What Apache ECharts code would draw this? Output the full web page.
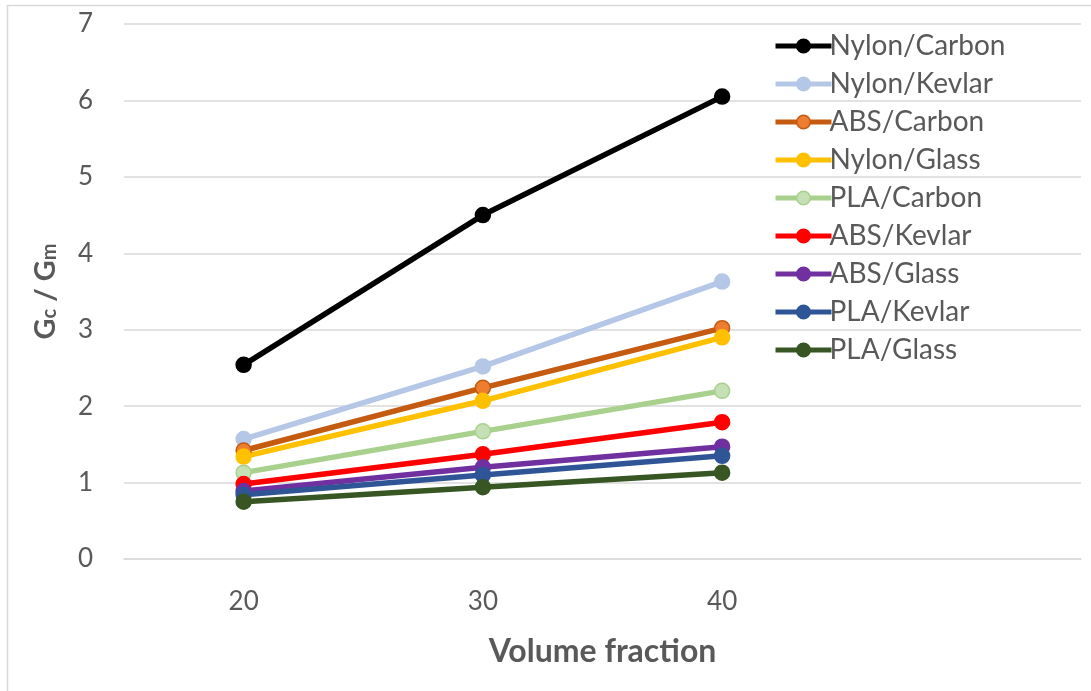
<!DOCTYPE html>
<html>
<head>
<meta charset="utf-8">
<script src="https://cdn.jsdelivr.net/npm/echarts@6/dist/echarts.min.js"></script>
<style>
  html, body { margin: 0; padding: 0; background: #ffffff; }
  #chart { width: 1091px; height: 691px; }
</style>
</head>
<body>
<div id="chart"></div>
<script>
// Volume fraction categories (the trailing blank slot leaves room for the legend)
const categories = ['20', '30', '40', ''];

// Gc / Gm ratio for each fibre/matrix combination
const nylonCarbon = [2.54, 4.50, 6.05];
const nylonKevlar = [1.57, 2.52, 3.63];
const absCarbon   = [1.42, 2.24, 3.02];
const nylonGlass  = [1.34, 2.07, 2.90];
const plaCarbon   = [1.13, 1.67, 2.20];
const absKevlar   = [0.98, 1.37, 1.79];
const absGlass    = [0.89, 1.20, 1.47];
const plaKevlar   = [0.84, 1.10, 1.35];
const plaGlass    = [0.75, 0.94, 1.13];

const yTicks = [0, 1, 2, 3, 4, 5, 6, 7];

const seriesDefs = [
  { name: 'Nylon/Carbon', data: nylonCarbon, line: '#000000', fill: '#000000' },
  { name: 'Nylon/Kevlar', data: nylonKevlar, line: '#B4C7E7', fill: '#B4C7E7' },
  { name: 'ABS/Carbon',   data: absCarbon,   line: '#C55A11', fill: '#ED7D31' },
  { name: 'Nylon/Glass',  data: nylonGlass,  line: '#FFC000', fill: '#FFC000' },
  { name: 'PLA/Carbon',   data: plaCarbon,   line: '#A9D18E', fill: '#C5E0B4' },
  { name: 'ABS/Kevlar',   data: absKevlar,   line: '#FF0000', fill: '#FF0000' },
  { name: 'ABS/Glass',    data: absGlass,    line: '#7030A0', fill: '#7030A0' },
  { name: 'PLA/Kevlar',   data: plaKevlar,   line: '#2F5597', fill: '#2F5597' },
  { name: 'PLA/Glass',    data: plaGlass,    line: '#375623', fill: '#375623' }
];

const FONT = 'Lato, "Open Sans", sans-serif';
const GREY = '#595959';

const chart = echarts.init(document.getElementById('chart'), null, { renderer: 'canvas' });

chart.setOption({
  animation: false,
  backgroundColor: '#ffffff',
  graphic: [{
    type: 'rect',
    shape: { x: 7.5, y: 5.5, width: 1100, height: 700 },
    style: { fill: 'none', stroke: '#D9D9D9', lineWidth: 1.5 },
    silent: true,
    z: -1
  }],
  grid: { left: 124, right: 10, top: 24, bottom: 132, containLabel: false },
  legend: {
    orient: 'vertical',
    left: 768,
    top: 26,
    itemWidth: 56,
    itemHeight: 17,
    itemGap: 8,
    lineStyle: { width: 5 },
    itemStyle: { borderWidth: 1.5 },
    textStyle: { fontFamily: FONT, fontSize: 28, color: GREY, lineHeight: 30, padding: [0, 0, 0, -7] },
    data: seriesDefs.map(s => s.name)
  },
  xAxis: {
    type: 'category',
    data: categories,
    boundaryGap: true,
    axisLine: { show: true, lineStyle: { color: '#D9D9D9', width: 1.5 } },
    axisTick: { show: false },
    axisLabel: { fontFamily: FONT, fontSize: 26, color: GREY, margin: 30 },
    splitLine: { show: false },
    name: 'Volume fraction',
    nameLocation: 'middle',
    nameGap: 77,
    nameTextStyle: { fontFamily: FONT, fontSize: 32, fontWeight: 'bold', color: GREY }
  },
  yAxis: {
    type: 'value',
    min: yTicks[0],
    max: yTicks[yTicks.length - 1],
    interval: 1,
    axisLine: { show: false },
    axisTick: { show: false },
    axisLabel: { fontFamily: FONT, fontSize: 26, color: GREY, margin: 31 },
    splitLine: { show: true, lineStyle: { color: '#D9D9D9', width: 1.5 } },
    name: '{b|G}{s|c}{b| / G}{s|m}',
    nameLocation: 'middle',
    nameRotate: 90,
    nameGap: 64,
    nameTextStyle: {
      rich: {
        b: { fontFamily: FONT, fontSize: 29, fontWeight: 'bold', color: GREY, verticalAlign: 'bottom', lineHeight: 36 },
        s: { fontFamily: FONT, fontSize: 20, fontWeight: 'bold', color: GREY, verticalAlign: 'bottom', lineHeight: 20 }
      }
    }
  },
  series: seriesDefs.map(s => ({
    name: s.name,
    type: 'line',
    data: s.data,
    symbol: 'circle',
    symbolSize: 15,
    showSymbol: true,
    lineStyle: { color: s.line, width: 5.5 },
    itemStyle: { color: s.fill, borderColor: s.line, borderWidth: 1.5 },
    emphasis: { disabled: true }
  }))
});
</script>
</body>
</html>
